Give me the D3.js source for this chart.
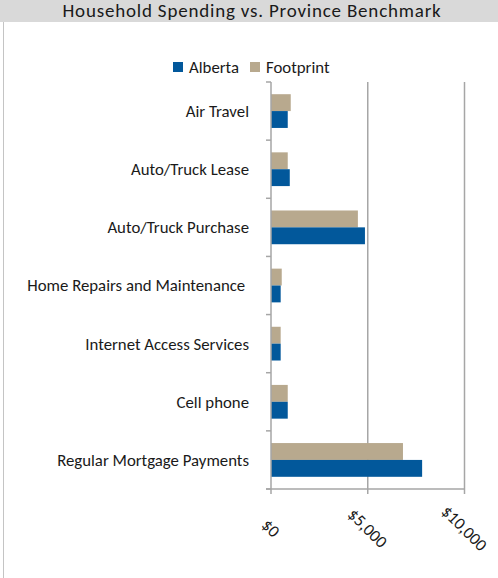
<!DOCTYPE html>
<html>
<head>
<meta charset="utf-8">
<script src="https://cdn.jsdelivr.net/npm/d3@7"></script>
<style>
  body { margin: 0; background: #fff; }
  svg { display: block; font-family: Carlito, Calibri, Lato, sans-serif; }
</style>
</head>
<body>
<svg id="chart"></svg>
<script>
// Chart data
var categories = ['Air Travel', 'Auto/Truck Lease', 'Auto/Truck Purchase',
                  'Home Repairs and Maintenance ', 'Internet Access Services',
                  'Cell phone', 'Regular Mortgage Payments'];
var seriesNames = ['Footprint', 'Alberta'];
var footprint = [1020, 865, 4490, 555, 500, 865, 6820];
var alberta = [865, 970, 4855, 500, 500, 865, 7810];
var tickValues = [0, 5000, 10000];

var width = 498, height = 578;
var colors = { 'Alberta': '#02589b', 'Footprint': '#b8a98e' };

var svg = d3.select('#chart').attr('width', width).attr('height', height);

// Title band
svg.append('rect').attr('x', 0).attr('y', 0).attr('width', width).attr('height', 22)
    .attr('fill', '#d9d9d9');
svg.append('text').attr('x', 252).attr('y', 17)
    .attr('text-anchor', 'middle')
    .style('font-size', '19px').style('letter-spacing', '0.8px').style('fill', '#1a1a1a')
    .text('Household Spending vs. Province Benchmark');

// Left border
svg.append('line').attr('x1', 3.5).attr('x2', 3.5).attr('y1', 22).attr('y2', height)
    .attr('stroke', '#c4c4c4').attr('stroke-width', 1);

// Scales
var x = d3.scaleLinear().domain([0, 10000]).range([271, 464.5]);
var y = d3.scaleBand().domain(categories).range([82, 489]).padding(0);
var sub = d3.scaleBand().domain(seriesNames).range([12.2, y.bandwidth() - 12.2]).padding(0);

var rows = categories.map(function(c, i) {
    return { cat: c, Footprint: footprint[i], Alberta: alberta[i] };
});

// Grid lines
svg.append('g').selectAll('line')
    .data(tickValues.slice(1))
    .enter().append('line')
    .attr('x1', function(d) { return x(d); })
    .attr('x2', function(d) { return x(d); })
    .attr('y1', 82).attr('y2', 489)
    .attr('stroke', '#a6a6a6').attr('stroke-width', 1.5);

// Bars
var groups = svg.append('g').selectAll('g')
    .data(rows)
    .enter().append('g')
    .attr('transform', function(d) { return 'translate(0,' + y(d.cat) + ')'; });

groups.selectAll('rect')
    .data(function(d) { return seriesNames.map(function(s) { return { s: s, v: d[s] }; }); })
    .enter().append('rect')
    .attr('x', x(0))
    .attr('y', function(d) { return sub(d.s); })
    .attr('width', function(d) { return x(d.v) - x(0); })
    .attr('height', sub.bandwidth())
    .attr('fill', function(d) { return colors[d.s]; });

// Vertical (category) axis
var ya = svg.append('g');
ya.append('line').attr('x1', x(0)).attr('x2', x(0)).attr('y1', 82).attr('y2', 489)
    .attr('stroke', '#a6a6a6').attr('stroke-width', 1.5);
var bounds = categories.map(function(c) { return y(c); }).concat([489]);
ya.selectAll('line.tk')
    .data(bounds)
    .enter().append('line').attr('class', 'tk')
    .attr('x1', x(0) - 5).attr('x2', x(0))
    .attr('y1', function(d) { return d; }).attr('y2', function(d) { return d; })
    .attr('stroke', '#a6a6a6').attr('stroke-width', 1.5);
ya.selectAll('text')
    .data(categories)
    .enter().append('text')
    .attr('x', 249)
    .attr('y', function(d) { return y(d) + y.bandwidth() / 2; })
    .attr('dy', '0.35em')
    .attr('text-anchor', 'end')
    .style('font-size', '16.8px').style('fill', '#1a1a1a')
    .style('white-space', 'pre')
    .text(function(d) { return d; });

// Horizontal (value) axis
var xa = svg.append('g');
xa.append('line').attr('x1', x(0) - 5).attr('x2', x(10000)).attr('y1', 489).attr('y2', 489)
    .attr('stroke', '#a6a6a6').attr('stroke-width', 1.5);
xa.selectAll('line.tk')
    .data(tickValues)
    .enter().append('line').attr('class', 'tk')
    .attr('x1', function(d) { return x(d); }).attr('x2', function(d) { return x(d); })
    .attr('y1', 489).attr('y2', 494)
    .attr('stroke', '#a6a6a6').attr('stroke-width', 1.5);
var fmt = d3.format('$,');
xa.selectAll('text')
    .data(tickValues)
    .enter().append('text')
    .attr('transform', function(d) { return 'translate(' + x(d) + ',528) rotate(45)'; })
    .attr('text-anchor', 'middle')
    .attr('dy', '0.35em')
    .style('font-size', '17px').style('fill', '#1a1a1a')
    .text(function(d) { return fmt(d); });

// Legend
var legendItems = ['Alberta', 'Footprint'];
var legendX = [173, 250];
var legend = svg.append('g').selectAll('g')
    .data(legendItems)
    .enter().append('g')
    .attr('transform', function(d, i) { return 'translate(' + legendX[i] + ',62)'; });
legend.append('rect').attr('width', 10).attr('height', 10)
    .attr('fill', function(d) { return colors[d]; });
legend.append('text').attr('x', 16).attr('y', 5).attr('dy', '0.35em')
    .style('font-size', '16.8px').style('fill', '#1a1a1a')
    .text(function(d) { return d; });
</script>
</body>
</html>
